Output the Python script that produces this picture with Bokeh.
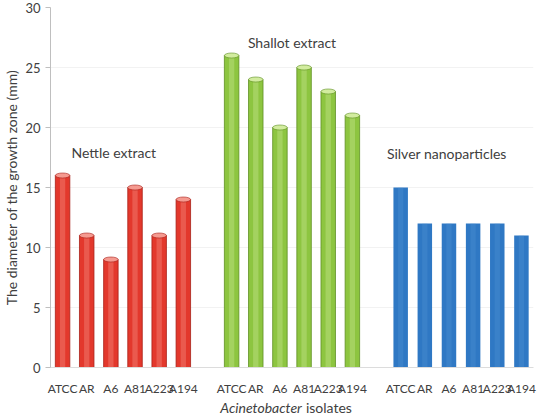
from bokeh.plotting import figure
from bokeh.layouts import column
from bokeh.models import Label, Range1d, FixedTicker
from bokeh.core.properties import value
from bokeh.embed import file_html
from bokeh.resources import INLINE

# Inhibition zone diameters (mm) per isolate and treatment
isolates = ["ATCC", "AR", "A6", "A81", "A223", "A194"]
nettle = [16, 11, 9, 15, 11, 14]
shallot = [26, 24, 20, 25, 23, 21]
silver = [15, 12, 12, 12, 12, 11]
group_names = ["Nettle extract", "Shallot extract", "Silver nanoparticles"]
y_ticks = [0, 5, 10, 15, 20, 25, 30]
x_title = ["Acinetobacter", "isolates"]

TEXT = "#404040"
FONT = "Lato"
LEFT, RIGHT = 49, 6

# (values, fill, edge, highlight, cylinder cap)
groups = [
    (nettle, "#e3382c", "#a81f17", "#f59a90", True),
    (shallot, "#8dc540", "#5e8f22", "#d2ec9f", True),
    (silver, "#2f78c4", "#22609f", "#5d9ad8", False),
]

p = figure(width=539, height=398, output_backend="svg", toolbar_location=None,
           x_range=Range1d(-0.5, 19.5), y_range=Range1d(0, 30))
p.min_border_left = LEFT
p.min_border_right = RIGHT
p.min_border_top = 7
p.min_border_bottom = 28
p.outline_line_color = None
p.background_fill_color = "white"
p.border_fill_color = "white"

tick_pos, tick_lbl = [], []
for gi, (vals, col, dark, light, cap) in enumerate(groups):
    xs = [gi * 7 + i for i in range(len(vals))]
    tick_pos += xs
    tick_lbl += isolates
    p.vbar(x=xs, top=vals, width=0.6, fill_color=col,
           line_color=dark if cap else None, line_width=0.8)
    # soft highlight down the middle of each bar
    p.vbar(x=xs, top=vals, width=0.22, fill_color=light,
           fill_alpha=0.35 if cap else 0.25, line_color=None)
    if cap:
        p.ellipse(x=xs, y=vals, width=0.6, height=5, height_units="screen",
                  fill_color=light, line_color=dark, line_width=0.6)

p.xaxis.ticker = FixedTicker(ticks=tick_pos)
p.xaxis.major_label_overrides = {t: l for t, l in zip(tick_pos, tick_lbl)}
p.xaxis.major_tick_line_color = None
p.xaxis.minor_tick_line_color = None
p.xaxis.axis_line_color = "#dcdcdc"
p.xaxis.major_label_text_font = FONT
p.xaxis.major_label_text_font_size = "12px"
p.xaxis.major_label_text_color = TEXT
p.xaxis.major_label_standoff = 7

ax = p.yaxis
ax.ticker = FixedTicker(ticks=y_ticks)
ax.axis_line_color = "#bfbfbf"
ax.major_tick_line_color = "#bfbfbf"
ax.major_tick_out = 5
ax.major_tick_in = 0
ax.minor_tick_line_color = None
ax.major_label_text_font = FONT
ax.major_label_text_font_size = "13px"
ax.major_label_text_color = TEXT
ax.major_label_standoff = 5
ax.axis_label = "The diameter of the growth zone (mm)"
ax.axis_label_text_font = FONT
ax.axis_label_text_font_style = "normal"
ax.axis_label_text_font_size = "14px"
ax.axis_label_text_color = TEXT
ax.axis_label_standoff = 2

p.xgrid.grid_line_color = None
p.ygrid.grid_line_color = "#f2f2f2"

# group titles
label_pos = [(0.37, 17.95, "left"), (9.5, 27.1, "center"), (13.43, 17.8, "left")]
for (x, y, align), name in zip(label_pos, group_names):
    p.add_layout(Label(x=x, y=y, text=name, text_align=align, text_baseline="middle",
                       text_font=FONT, text_font_size="14px", text_color=TEXT))

# strip underneath carrying the x axis title (italic genus name)
q = figure(width=539, height=18, output_backend="svg", toolbar_location=None,
           x_range=p.x_range, y_range=Range1d(0, 1))
q.min_border_left = LEFT
q.min_border_right = RIGHT
q.min_border_top = 0
q.min_border_bottom = 0
q.outline_line_color = None
q.axis.visible = False
q.grid.grid_line_color = None
q.text(x=[9.91], y=[0.5], text=[x_title[0]], text_align="right", text_baseline="middle",
       text_font=value(FONT), text_font_style="italic", text_font_size="14px",
       text_color=TEXT)
q.text(x=[9.91], y=[0.5], text=[x_title[1]], x_offset=4, text_align="left",
       text_baseline="middle", text_font=value(FONT), text_font_size="14px",
       text_color=TEXT)

layout = column(p, q, spacing=0)
open("out.html", "w").write(file_html(layout, INLINE))
